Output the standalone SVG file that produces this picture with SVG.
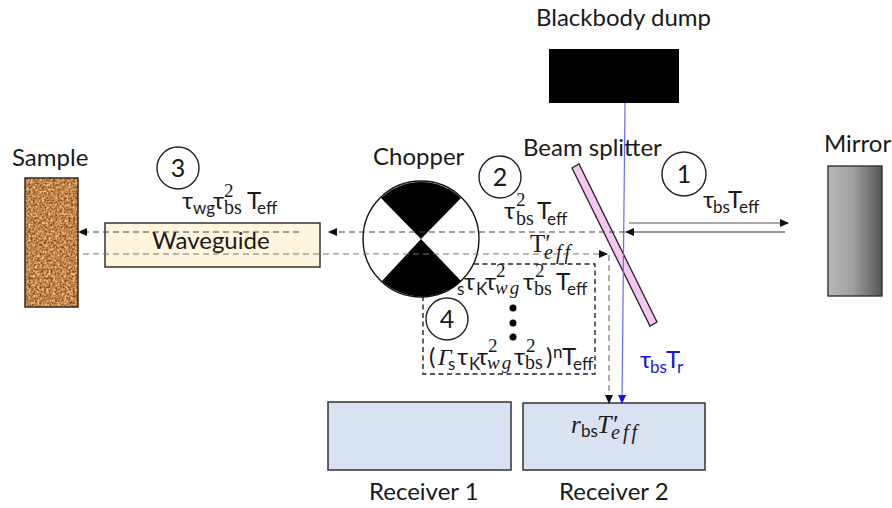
<svg xmlns="http://www.w3.org/2000/svg" width="892" height="508" viewBox="0 0 892 508">
<style>
text{font-family:"Lato","Open Sans","Liberation Sans",sans-serif;fill:#1a1a1a}
.l{font-size:24px}
.m{font-size:24px}
.u{font-size:24px}
.s{font-size:17px}
.t{font-family:"Liberation Serif",serif;font-size:20px}
.p{font-family:"Liberation Serif",serif;font-size:19px}
.i{font-family:"Liberation Serif",serif;font-style:italic}
.w{font-family:"Liberation Serif",serif;font-style:italic;font-size:19px;letter-spacing:2px}
.e{font-family:"Liberation Serif",serif;font-style:italic;font-size:20px;letter-spacing:3px}
.c{fill:#fff;stroke:#222;stroke-width:1.4}
.d{fill:none;stroke:#777;stroke-width:1.2;stroke-dasharray:6 4}
.dk{fill:none;stroke:#444;stroke-width:1.2;stroke-dasharray:6 4}
.r{fill:#d9e2f3;stroke:#333;stroke-width:1.5}
.n{font-size:25px;text-anchor:middle}
text.b{fill:#1414e6}
</style>
<defs>
<marker id="a" markerWidth="9" markerHeight="8" refX="8" refY="4" orient="auto" markerUnits="userSpaceOnUse"><path d="M0 0L9 4L0 8Z" fill="#111"/></marker>
<marker id="ab" markerWidth="9" markerHeight="8" refX="8" refY="4" orient="auto" markerUnits="userSpaceOnUse"><path d="M0 0L9 4L0 8Z" fill="#1414e6"/></marker>
<linearGradient id="mg"><stop offset="0" stop-color="#b8b8b8"/><stop offset=".45" stop-color="#a0a0a0"/><stop offset="1" stop-color="#565656"/></linearGradient>
<filter id="cork" x="0" y="0" width="1" height="1" color-interpolation-filters="sRGB"><feTurbulence type="fractalNoise" baseFrequency=".45" numOctaves="3" seed="4"/><feColorMatrix values="0.9 0 0 0 .3  0.9 0 0 0 .07  0.8 0 0 0 -.1  0 0 0 0 1"/><feComposite in2="SourceGraphic" operator="in"/></filter>
</defs>
<rect width="892" height="508" fill="#fff"/>

<g id="box4"><rect x="423" y="264" width="172" height="110" fill="none" stroke="#222" stroke-width="1.4" stroke-dasharray="5 3.5"/></g>

<g id="sample">
<text class="l" x="12" y="166">Sample</text>
<rect x="25" y="178" width="53" height="129" fill="#cf9a62" filter="url(#cork)"/>
<rect x="25" y="178" width="53" height="129" fill="none" stroke="#3a2a1c" stroke-width="1.5"/>
</g>
<g id="waveguide">
<rect x="105" y="223" width="215" height="44" fill="#fff5dc" stroke="#333" stroke-width="1.5"/>
<text class="l" x="152" y="249">Waveguide</text>
</g>
<g id="chopper">
<text class="l" x="373" y="165">Chopper</text>
<circle cx="421" cy="239" r="58" fill="#fff" stroke="#111" stroke-width="1.4"/>
<path d="M421 239L381 198A58 58 0 0 1 461 198Z" fill="#000"/>
<path d="M421 239L382 281A58 58 0 0 0 461 281Z" fill="#000"/>
</g>
<g id="blackbody">
<text class="l" x="536" y="26">Blackbody dump</text>
<rect x="549" y="49" width="130" height="54" fill="#000"/>
</g>
<g id="splitter">
<text class="l" x="523" y="156">Beam splitter</text>
<path d="M572 168L579 164L657 322L650 326Z" fill="#f4c6f0" stroke="#222" stroke-width="1.3"/>
</g>
<g id="mirror">
<text class="l" x="824" y="152">Mirror</text>
<rect x="828" y="166" width="54" height="130" fill="url(#mg)" stroke="#333" stroke-width="1.4"/>
</g>
<g id="receiver1">
<rect class="r" x="328" y="402" width="183" height="68"/>
<text class="l" x="369" y="500">Receiver 1</text>
</g>
<g id="receiver2">
<rect class="r" x="523" y="403" width="182" height="67"/>
<text class="l" x="559" y="500">Receiver 2</text>
<text><tspan class="i" font-size="25" x="571" y="433">r</tspan><tspan class="s" x="581" y="437">bs</tspan><tspan class="i" font-size="26" x="597" y="433">T′</tspan><tspan class="e" x="611" y="439">eff</tspan></text>
</g>

<g id="connectors">
<path d="M625 103L622 403" fill="none" stroke="#6a6af5" stroke-width="1.2" marker-end="url(#ab)"/>
<path d="M629 223H788" fill="none" stroke="#555" stroke-width="1.2" marker-end="url(#a)"/>
<path d="M785 232H626" fill="none" stroke="#333" stroke-width="1.2" marker-end="url(#a)"/>
<path class="dk" d="M625 232H329" marker-end="url(#a)"/>
<path class="dk" d="M299 232H79" marker-end="url(#a)"/>
<path class="d" d="M83 254H607" marker-end="url(#a)"/>
<path class="d" d="M609 255V403" marker-end="url(#a)"/>
</g>

<g id="step1"><circle class="c" cx="684" cy="174" r="22"/><text class="n" x="684" y="183">1</text></g>
<g id="step2"><circle class="c" cx="500" cy="177" r="21"/><text class="n" x="500" y="186">2</text></g>
<g id="step3"><circle class="c" cx="178" cy="168" r="21"/><text class="n" x="178" y="177">3</text></g>
<g id="step4"><circle class="c" cx="447" cy="319" r="21"/><text class="n" x="447" y="328">4</text></g>

<g id="label1"><text><tspan class="u" x="703" y="208">τ</tspan><tspan class="s" x="713" y="213">bs</tspan><tspan class="m" x="728" y="208">T</tspan><tspan class="s" x="739" y="213">eff</tspan></text></g>
<g id="label2"><text><tspan class="u" x="504" y="219">τ</tspan><tspan class="p" x="516" y="206">2</tspan><tspan class="t" x="516" y="225">bs</tspan><tspan class="m" x="537" y="219">T</tspan><tspan class="s" x="547" y="225">eff</tspan></text></g>
<g id="label2b"><text><tspan class="i" style="font-style:normal" font-size="25" x="530" y="252">T′</tspan><tspan class="e" x="544" y="259">eff</tspan></text></g>
<g id="label3"><text><tspan class="u" x="182" y="209">τ</tspan><tspan class="s" x="193" y="214">wg</tspan><tspan class="u" x="213" y="209">τ</tspan><tspan class="p" x="224" y="197">2</tspan><tspan class="t" x="224" y="214">bs</tspan><tspan class="m" x="247" y="209">T</tspan><tspan class="s" x="257" y="214">eff</tspan></text></g>
<g id="label4a"><text><tspan class="s" x="457" y="295">s</tspan><tspan class="u" x="464" y="290">τ</tspan><tspan class="s" x="476" y="295">K</tspan><tspan class="u" x="485" y="290">τ</tspan><tspan class="p" x="496" y="277">2</tspan><tspan class="w" x="495" y="294">wg</tspan><tspan class="u" x="523" y="290">τ</tspan><tspan class="p" x="535" y="277">2</tspan><tspan class="t" x="534" y="295">bs</tspan><tspan class="m" x="556" y="290">T</tspan><tspan class="s" x="567" y="295">eff</tspan></text></g>
<g id="dots"><circle cx="513" cy="308" r="3.5" fill="#000"/><circle cx="513" cy="323" r="3.5" fill="#000"/><circle cx="513" cy="337" r="3.5" fill="#000"/></g>
<g id="label4b"><text><tspan class="m" x="429" y="365">(</tspan><tspan class="i" font-size="24" x="438" y="365">Γ</tspan><tspan class="s" x="448" y="370">s</tspan><tspan class="u" x="457" y="365">τ</tspan><tspan class="s" x="469" y="370">K</tspan><tspan class="u" x="477" y="365">τ</tspan><tspan class="p" x="488" y="352">2</tspan><tspan class="w" x="487" y="369">wg</tspan><tspan class="u" x="514" y="365">τ</tspan><tspan class="p" x="526" y="352">2</tspan><tspan class="t" x="525" y="369">bs</tspan><tspan class="m" x="546" y="365">)</tspan><tspan class="s" x="553" y="358">n</tspan><tspan class="m" x="562" y="365">T</tspan><tspan class="s" x="573" y="370">eff</tspan></text></g>
<g id="labelr"><text class="b"><tspan class="u b" x="640" y="368">τ</tspan><tspan class="s b" x="650" y="373">bs</tspan><tspan class="m b" x="666" y="368">T</tspan><tspan class="s b" x="677" y="373">r</tspan></text></g>
</svg>
